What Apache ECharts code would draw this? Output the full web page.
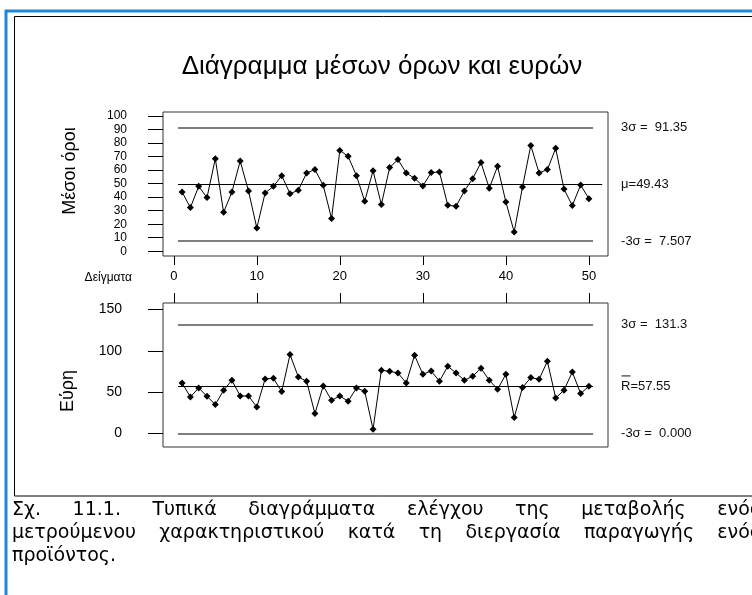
<!DOCTYPE html>
<html>
<head>
<meta charset="utf-8">
<script src="https://cdn.jsdelivr.net/npm/echarts@6/dist/echarts.min.js"></script>
<style>
html, body { margin: 0; padding: 0; background: #fff; }
#chart { width: 752px; height: 595px; }
</style>
</head>
<body>
<div id="chart"></div>
<script>
// Sample numbers (x axis)
const samples = [1, 2, 3, 4, 5, 6, 7, 8, 9, 10, 11, 12, 13, 14, 15, 16, 17, 18, 19, 20,
  21, 22, 23, 24, 25, 26, 27, 28, 29, 30, 31, 32, 33, 34, 35, 36, 37, 38, 39, 40,
  41, 42, 43, 44, 45, 46, 47, 48, 49, 50];

// Sample means
const means = [43.8, 32.3, 48.0, 39.7, 68.5, 28.8, 43.8, 66.7, 44.6, 17.2,
  43.1, 48.0, 55.9, 42.6, 45.1, 57.9, 60.4, 48.8, 24.2, 74.6,
  70.2, 55.9, 37.0, 59.6, 34.5, 61.9, 67.8, 57.9, 54.0, 48.3,
  58.2, 58.6, 34.0, 33.3, 44.6, 53.7, 65.6, 46.6, 62.8, 36.4,
  14.3, 47.5, 78.3, 57.9, 60.4, 76.1, 46.0, 33.8, 49.0, 38.9];

// Sample ranges
const ranges = [61.1, 44.2, 55.1, 45.0, 35.0, 52.3, 64.4, 45.4, 45.4, 32.1,
  66.0, 66.8, 50.7, 95.4, 68.4, 63.2, 24.2, 57.5, 40.2, 45.4,
  39.0, 55.1, 51.1, 5.2, 76.4, 75.2, 73.2, 61.1, 94.6, 71.6,
  75.6, 63.2, 81.3, 73.2, 64.4, 69.2, 78.9, 64.4, 53.5, 71.6,
  19.3, 55.6, 67.6, 65.6, 87.3, 43.0, 52.3, 74.4, 48.3, 57.1];

// Control limits: [upper, centre, lower]
const meanLimits = [91.35, 49.43, 7.507];
const rangeLimits = [131.3, 57.55, 0.000];

// Tick labels
const sampleTicks = [0, 10, 20, 30, 40, 50];
const meanTicks = [0, 10, 20, 30, 40, 50, 60, 70, 80, 90, 100];
const rangeTicks = [0, 50, 100, 150];

const captionLines = [
  'Σχ. 11.1. Τυπικά διαγράμματα ελέγχου της μεταβολής ενός',
  'μετρούμενου χαρακτηριστικού κατά τη διεργασία παραγωγής ενός',
  'προϊόντος.'
];

const SANS = '"Liberation Sans", Arial, sans-serif';
const CAPTION_FONT = '19px "DejaVu Sans", sans-serif';

const LINE_START = 0.5;
const LINE_END = 50.5;
const LABEL_GAP = 28;

const chart = echarts.init(document.getElementById('chart'), null, { renderer: 'canvas' });

function limitLines(limits, labels, centreEnd) {
  const styles = [
    { color: '#555', width: 1.5 },
    { color: '#000', width: 1 },
    { color: '#555', width: 1.5 }
  ];
  // pixels per sample unit, used to keep all three labels in one column
  const pxPerUnit = 445 / (52.3 + 1.3);
  return {
    silent: true,
    symbol: 'none',
    animation: false,
    label: {
      show: true,
      position: 'end',
      color: '#111',
      fontSize: 13,
      fontFamily: SANS
    },
    data: limits.map((v, k) => {
      const end = k === 1 ? centreEnd : LINE_END;
      return [
        { coord: [LINE_START, v], lineStyle: Object.assign({ type: 'solid' }, styles[k]),
          label: { formatter: labels[k], distance: LABEL_GAP - (end - LINE_END) * pxPerUnit } },
        { coord: [end, v] }
      ];
    })
  };
}

const xBase = {
  type: 'value',
  min: -1.3,
  max: 52.3,
  axisLine: { show: false, onZero: false },
  splitLine: { show: false }
};

const yLabel = {
  fontSize: 12, lineHeight: 12, color: '#000', fontFamily: SANS,
  showMinLabel: true, showMaxLabel: true, hideOverlap: false
};

const option = {
  animation: false,
  backgroundColor: '#fff',
  title: {
    text: 'Διάγραμμα μέσων όρων και ευρών',
    left: 377,
    top: 49,
    textAlign: 'center',
    textStyle: { fontSize: 26, fontWeight: 'normal', color: '#000', fontFamily: SANS }
  },
  grid: [
    { left: 163, top: 112, width: 445, height: 144, show: true, borderColor: '#333', borderWidth: 1, backgroundColor: 'transparent' },
    { left: 163, top: 303, width: 445, height: 144, show: true, borderColor: '#333', borderWidth: 1, backgroundColor: 'transparent' }
  ],
  xAxis: [
    Object.assign({}, xBase, {
      gridIndex: 0,
      position: 'bottom',
      axisTick: { show: true, inside: false, length: 9, customValues: sampleTicks, lineStyle: { color: '#000' } },
      axisLabel: { show: true, margin: 14, fontSize: 13, color: '#000', fontFamily: SANS,
        customValues: sampleTicks, showMinLabel: true, showMaxLabel: true }
    }),
    Object.assign({}, xBase, {
      gridIndex: 1,
      position: 'top',
      axisTick: { show: true, inside: false, length: 10, customValues: sampleTicks, lineStyle: { color: '#000' } },
      axisLabel: { show: false }
    })
  ],
  yAxis: [
    {
      type: 'value', gridIndex: 0, min: -3.5, max: 103,
      axisLine: { show: false, onZero: false },
      splitLine: { show: false },
      axisTick: { show: true, length: 15, customValues: meanTicks, lineStyle: { color: '#000' } },
      axisLabel: Object.assign({ margin: 36, customValues: meanTicks }, yLabel)
    },
    {
      type: 'value', gridIndex: 1, min: -16.2, max: 157.7,
      axisLine: { show: false, onZero: false },
      splitLine: { show: false },
      axisTick: { show: true, length: 15, customValues: rangeTicks, lineStyle: { color: '#000' } },
      axisLabel: Object.assign({ margin: 41, customValues: rangeTicks }, yLabel, { fontSize: 14, lineHeight: 14 })
    }
  ],
  series: [
    {
      name: 'Μέσοι όροι',
      type: 'line',
      xAxisIndex: 0, yAxisIndex: 0,
      data: means.map((v, i) => [samples[i], v]),
      symbol: 'diamond',
      symbolSize: 7,
      itemStyle: { color: '#000' },
      lineStyle: { color: '#000', width: 1 },
      markLine: limitLines(meanLimits, [
        '3σ =  ' + meanLimits[0],
        'μ=' + meanLimits[1],
        '-3σ =  ' + meanLimits[2]
      ], 51.6)
    },
    {
      name: 'Εύρη',
      type: 'line',
      xAxisIndex: 1, yAxisIndex: 1,
      data: ranges.map((v, i) => [samples[i], v]),
      symbol: 'diamond',
      symbolSize: 7,
      itemStyle: { color: '#000' },
      lineStyle: { color: '#000', width: 1 },
      markLine: limitLines(rangeLimits, [
        '3σ =  ' + rangeLimits[0],
        'R=' + rangeLimits[1],
        '-3σ =  ' + rangeLimits[2].toFixed(3)
      ], LINE_END)
    }
  ]
};

chart.setOption(option);

// Frames, axis names, caption and the bar over R
const ctx = document.createElement('canvas').getContext('2d');
ctx.font = CAPTION_FONT;

function justifiedWords(line, left, right, y, justify) {
  const words = line.split(' ');
  const widths = words.map(w => ctx.measureText(w).width);
  const total = widths.reduce((a, b) => a + b, 0);
  const gap = justify ? (right - left - total) / (words.length - 1) : ctx.measureText(' ').width;
  let x = left;
  return words.map((w, k) => {
    const el = {
      type: 'text', x: x, y: y, z: 10,
      style: { text: w, font: CAPTION_FONT, fill: '#000', align: 'left', verticalAlign: 'middle' }
    };
    x += widths[k] + gap;
    return el;
  });
}

const graphics = [
  { type: 'rect', z: 0, shape: { x: 6, y: 11, width: 800, height: 700 }, style: { fill: 'none', stroke: '#1f86d3', lineWidth: 3 } },
  { type: 'rect', z: 0, shape: { x: 14.5, y: 16.5, width: 800, height: 479.5 }, style: { fill: 'none', stroke: '#000', lineWidth: 1 } },
  { type: 'text', x: 70, y: 171, rotation: Math.PI / 2,
    style: { text: 'Μέσοι όροι', font: '18px ' + SANS, fill: '#000', align: 'center', verticalAlign: 'middle' } },
  { type: 'text', x: 68, y: 391, rotation: Math.PI / 2,
    style: { text: 'Εύρη', font: '18px ' + SANS, fill: '#000', align: 'center', verticalAlign: 'middle' } },
  { type: 'text', x: 132, y: 278,
    style: { text: 'Δείγματα', font: '12px ' + SANS, fill: '#000', align: 'right', verticalAlign: 'middle' } }
];

const rPos = chart.convertToPixel({ gridIndex: 1 }, [LINE_END, rangeLimits[1]]);
graphics.push({
  type: 'line', z: 10,
  shape: { x1: rPos[0] + LABEL_GAP + 0.5, y1: rPos[1] - 10, x2: rPos[0] + LABEL_GAP + 9.5, y2: rPos[1] - 10 },
  style: { stroke: '#111', lineWidth: 1 }
});

captionLines.forEach((line, k) => {
  graphics.push(...justifiedWords(line, 12, 761, 510 + 23 * k, k < 2));
});

chart.setOption({ graphic: graphics });
</script>
</body>
</html>
